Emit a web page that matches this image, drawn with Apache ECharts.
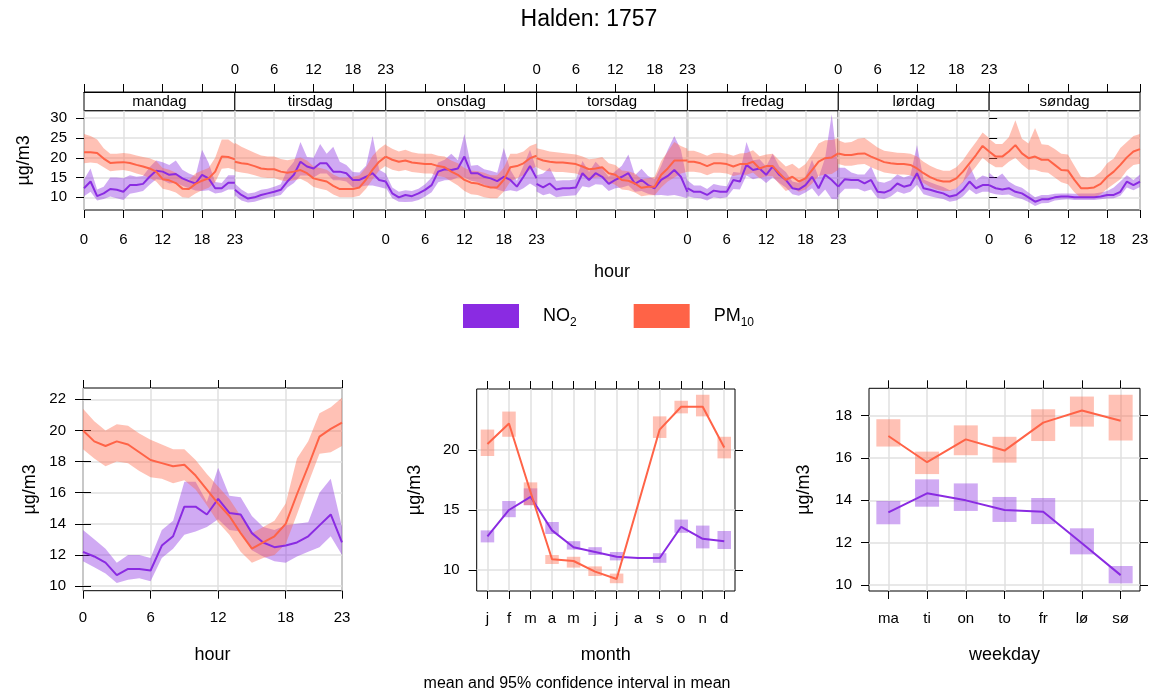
<!DOCTYPE html>
<html><head><meta charset="utf-8">
<script src="https://cdn.jsdelivr.net/npm/echarts@6/dist/echarts.min.js"></script>
<style>html,body{margin:0;padding:0;background:#fff}#c{width:1154px;height:692px}</style>
</head><body><div id="c"></div>
<script>
// ---------------- DATA ----------------
const days = ['mandag','tirsdag','onsdag','torsdag','fredag','lørdag','søndag'];
const hours = [0,1,2,3,4,5,6,7,8,9,10,11,12,13,14,15,16,17,18,19,20,21,22,23];
const topYTicks = [10,15,20,25,30];
const hourYTicks = [10,12,14,16,18,20,22];
const monthYTicks = [10,15,20];
const weekYTicks = [10,12,14,16,18];
const months = ['j','f','m','a','m','j','j','a','s','o','n','d'];
const weekdays = ['ma','ti','on','to','fr','lø','sø'];

// day x hour (one row per weekday, mandag..søndag)
const no2DayMean = [
 [12.3,14.0,10.3,11.0,12.1,11.9,11.4,13.1,13.1,13.4,15.2,16.7,16.5,15.7,15.9,14.8,14.1,13.5,15.7,14.8,12.3,12.3,13.7,13.7],
 [11.9,10.6,9.7,10.0,10.6,11.0,11.4,11.9,14.0,15.7,19.0,17.8,17.3,18.6,18.6,16.5,16.5,16.1,14.4,14.4,15.2,16.1,14.4,14.0],
 [14.0,11.0,10.0,10.6,10.3,11.0,11.9,13.1,16.5,17.1,16.9,17.3,20.3,16.1,16.1,15.2,14.8,14.1,15.2,14.4,12.7,15.2,17.9,14.8],
 [13.4,12.5,13.5,12.0,12.3,12.3,12.5,16.1,14.4,16.1,15.2,13.4,14.4,15.2,16.1,13.4,14.4,13.1,12.3,14.4,15.4,16.9,15.2,11.4],
 [12.3,11.4,11.4,10.6,11.7,11.4,11.4,14.4,14.0,18.2,16.9,17.3,15.7,17.8,15.7,14.4,12.3,12.0,13.1,15.2,12.3,15.7,14.4,12.7],
 [12.7,14.6,14.4,14.4,13.5,14.4,11.4,11.2,11.9,13.5,12.7,13.1,16.1,12.3,11.9,11.4,11.0,10.2,10.6,11.9,14.0,12.3,13.1,13.1],
 [13.1,12.3,12.0,12.3,11.4,11.0,10.0,8.9,9.5,9.5,10.0,10.2,10.2,10.0,10.0,10.0,10.0,10.2,10.6,10.6,11.4,14.0,13.1,14.0]
];
const no2DayLo = [
 [10.3,11.4,9.2,9.6,10.2,9.8,9.3,10.9,11.2,11.6,13.2,14.6,14.3,13.5,13.7,12.9,12.3,11.7,11.6,11.8,11.0,11.2,12.0,12.0],
 [10.5,9.2,8.7,8.9,9.4,9.9,10.2,10.6,12.5,13.6,15.5,15.5,15.0,16.0,16.0,14.3,14.3,14.0,12.5,12.6,13.0,13.0,12.6,12.2],
 [12.5,9.8,8.9,8.8,8.9,9.3,10.2,11.3,13.8,14.3,14.4,15.0,15.0,14.2,13.9,13.2,12.6,12.0,11.5,11.8,11.5,12.3,13.5,12.5],
 [11.5,10.5,11.0,10.0,10.3,10.4,10.5,12.8,12.5,13.3,13.2,11.6,12.3,12.5,13.0,11.4,11.6,10.9,10.5,10.6,10.4,10.6,10.2,9.8],
 [10.3,9.9,9.8,9.2,10.0,9.8,10.0,12.1,12.0,15.5,14.6,15.0,13.6,15.0,13.6,12.5,10.8,10.4,11.2,12.3,10.2,12.0,9.6,9.5],
 [10.5,12.2,12.2,12.2,11.5,12.0,9.8,9.6,10.2,11.5,10.9,11.4,13.2,10.8,10.3,9.9,9.6,8.9,9.2,10.2,12.0,10.8,11.4,11.4],
 [11.2,10.8,10.6,10.7,10.0,9.6,8.8,7.8,8.5,8.6,9.2,9.4,9.5,9.3,9.3,9.3,9.3,9.5,9.7,9.8,10.4,12.5,11.8,12.6]
];
const no2DayHi = [
 [14.5,17.3,12.0,12.7,15.0,15.0,14.8,15.6,15.2,15.4,17.6,19.3,18.9,18.2,19.3,17.0,16.0,15.4,22.0,18.7,13.9,13.6,15.6,15.6],
 [13.5,12.0,11.0,11.2,11.9,12.2,12.7,13.3,17.0,19.0,24.0,20.2,20.0,23.5,21.0,22.8,19.0,18.2,16.4,16.3,18.0,25.5,17.0,16.0],
 [16.0,12.5,11.4,11.8,11.6,12.2,13.3,15.0,18.8,19.5,21.0,19.4,26.0,18.0,18.2,17.1,16.7,16.2,22.5,17.0,14.2,18.0,22.0,17.0],
 [15.6,16.0,17.5,14.2,14.3,14.3,14.6,19.2,16.4,19.0,17.3,15.2,16.6,18.0,20.8,15.6,17.2,15.4,14.6,18.0,22.0,25.5,22.0,14.0],
 [14.3,13.0,13.0,12.1,13.4,13.0,12.8,16.4,16.2,24.0,19.4,19.6,17.8,21.0,17.8,16.4,14.0,13.6,15.2,19.5,15.0,20.0,31.0,17.0],
 [17.5,17.5,16.3,15.8,15.8,17.8,14.0,13.7,14.3,15.8,15.0,15.6,23.2,14.5,13.8,13.2,12.6,11.8,12.3,14.0,18.2,14.4,15.5,15.0],
 [16.2,14.8,16.0,14.0,13.0,12.4,11.2,10.0,10.6,10.6,10.9,11.0,11.0,10.9,11.0,11.0,11.0,11.2,11.6,12.5,14.0,15.6,14.4,15.8]
];
const pm10DayMean = [
 [21.4,21.4,21.2,19.8,18.7,18.8,18.9,18.7,18.2,17.8,17.3,16.5,14.6,14.3,13.6,12.2,12.1,13.4,14.2,14.8,16.5,20.3,20.2,19.6],
 [19.0,18.6,18.4,17.9,17.3,17.1,17.1,16.5,16.2,16.5,16.9,16.1,14.8,14.4,14.0,12.9,12.1,12.1,12.1,12.5,14.5,17.0,19.0,20.3],
 [20.3,19.5,19.0,19.3,18.8,18.6,18.4,18.4,17.9,17.6,16.5,15.7,14.4,13.7,13.5,12.9,12.5,12.5,14.4,17.6,17.9,18.6,19.9,20.5],
 [19.9,19.3,19.0,18.8,18.8,18.6,18.4,17.8,17.1,17.3,17.6,16.1,15.7,14.4,14.2,13.5,12.4,12.7,12.7,15.7,17.3,19.3,19.3,19.3],
 [19.0,19.0,18.6,17.9,18.6,18.6,18.4,17.8,18.4,18.4,19.0,17.3,17.9,17.9,16.1,14.4,15.2,14.0,14.8,16.9,19.0,19.9,20.1,21.1],
 [21.1,20.7,20.7,21.0,21.1,20.3,19.6,18.9,18.6,18.4,18.4,18.2,17.3,16.1,15.1,14.4,14.0,14.0,14.8,16.5,18.6,20.7,23.0,21.6],
 [21.6,20.3,20.3,21.6,23.2,21.1,19.9,20.3,19.5,19.5,18.2,16.9,16.8,14.4,12.3,12.3,12.5,13.4,15.2,16.5,18.2,20.1,21.6,22.2]
];
const pm10DayLo = [
 [18.6,18.8,18.6,17.6,16.6,16.8,16.9,16.6,16.0,15.6,14.9,14.0,12.2,11.8,11.2,10.0,9.9,11.0,11.8,12.4,13.8,17.2,17.4,17.0],
 [16.6,16.3,16.0,15.6,15.1,14.9,14.9,14.3,14.0,14.3,14.7,13.9,12.6,12.2,11.8,10.7,10.0,10.0,10.0,10.4,12.2,14.6,16.8,18.0],
 [17.8,17.0,16.6,16.9,16.4,16.2,16.0,16.0,15.4,15.1,14.0,13.0,11.6,10.8,10.6,10.0,9.8,9.8,11.5,14.0,14.8,15.6,17.0,17.8],
 [17.6,16.8,16.6,16.4,16.4,16.2,16.0,15.4,14.8,15.0,15.2,13.8,13.2,12.0,11.8,11.2,10.3,10.5,10.5,12.5,14.0,15.0,16.0,16.5],
 [16.5,16.5,16.2,15.6,16.2,16.2,16.0,15.4,15.8,15.7,16.3,14.8,15.3,15.3,13.4,11.6,12.3,11.4,12.0,13.5,15.4,15.8,15.9,17.0],
 [18.4,18.0,18.0,18.3,18.4,17.6,16.9,16.3,16.0,15.8,15.8,15.6,14.7,13.6,12.6,12.0,11.6,11.6,12.3,13.8,15.8,17.8,20.0,18.6],
 [18.6,17.6,17.6,19.0,20.0,18.3,17.0,17.0,16.4,16.2,15.0,13.8,13.3,11.3,9.9,9.9,10.1,10.8,12.2,13.4,14.6,16.8,18.2,18.5]
];
const pm10DayHi = [
 [26.0,25.5,24.6,22.4,21.0,21.0,21.2,21.0,20.6,20.2,19.9,19.2,17.4,17.0,16.2,14.6,14.4,16.0,16.8,17.4,20.0,24.6,24.6,23.4],
 [23.8,22.8,22.0,21.3,20.6,20.3,20.3,19.7,19.4,19.7,20.1,19.3,17.8,17.4,17.0,15.8,15.0,15.0,15.2,15.6,17.6,20.5,22.3,23.5],
 [23.2,22.3,21.6,22.0,21.4,21.1,21.0,21.0,20.5,20.3,19.3,18.6,17.4,16.8,16.6,16.2,15.6,15.6,17.5,21.0,21.0,21.6,23.0,23.6],
 [22.4,22.0,21.6,21.4,21.2,21.0,20.8,20.3,19.6,19.8,20.2,18.6,18.2,16.8,16.6,16.0,14.6,14.8,15.2,19.2,21.6,24.0,23.0,22.3],
 [21.8,21.8,21.2,20.5,21.2,21.3,21.0,20.5,21.1,21.2,21.9,20.4,20.8,21.0,19.4,17.8,18.5,17.2,18.4,20.8,23.6,24.4,24.5,25.0],
 [24.4,23.8,24.0,24.8,25.0,23.8,22.6,21.8,21.5,21.3,21.2,21.0,20.3,19.0,18.0,17.2,16.7,16.7,17.6,19.4,21.8,24.0,26.4,25.0],
 [24.8,23.5,23.5,25.2,29.5,24.8,23.6,27.5,23.4,23.2,22.2,21.0,20.8,18.0,15.2,15.0,15.2,16.4,18.6,19.8,22.5,24.0,25.5,26.0]
];

// hour of day
const no2HourMean = [12.2,11.9,11.5,10.7,11.1,11.1,11.0,12.6,13.2,15.1,15.1,14.6,15.6,14.7,14.6,13.4,12.8,12.5,12.6,12.8,13.2,13.9,14.6,12.8];
const no2HourLo   = [11.6,11.2,10.8,10.2,10.4,10.5,10.3,11.8,12.4,13.3,13.5,13.8,14.3,13.6,13.5,12.3,11.9,11.6,11.5,11.9,12.2,12.5,13.2,12.0];
const no2HourHi   = [13.6,13.0,12.4,11.5,12.0,12.0,11.8,13.6,14.2,16.7,16.7,15.4,17.6,15.8,15.7,14.5,13.8,13.6,13.9,14.0,14.1,16.0,16.9,13.8];
const pm10HourMean = [20.0,19.3,19.0,19.3,19.1,18.6,18.1,17.9,17.7,17.8,17.1,16.2,15.3,14.5,13.4,12.4,12.8,13.2,14.0,15.9,17.7,19.6,20.1,20.5];
const pm10HourLo   = [18.8,18.2,17.7,18.0,17.9,17.4,17.0,16.9,16.6,16.8,16.2,15.2,14.1,13.3,12.2,11.5,11.8,12.0,12.7,14.6,16.6,18.5,18.6,19.0];
const pm10HourHi   = [21.4,20.6,20.0,20.4,20.3,19.8,19.4,19.1,18.8,18.8,18.1,17.2,16.4,15.6,14.5,13.4,13.8,14.2,15.3,18.2,19.3,21.1,21.5,22.1];

// month
const no2MonthMean = [12.8,15.0,16.1,13.3,11.9,11.5,11.1,11.0,11.0,13.6,12.6,12.4];
const no2MonthLo   = [12.3,14.4,15.4,13.0,11.7,11.25,10.8,11.0,10.6,13.1,11.8,11.75];
const no2MonthHi   = [13.3,15.75,16.8,14.0,12.4,11.9,11.5,11.0,11.4,14.2,13.7,13.25];
const pm10MonthMean = [20.5,22.2,16.5,10.9,10.75,9.86,9.25,null,21.7,23.6,23.6,20.2];
const pm10MonthLo   = [19.5,21.1,15.4,10.5,10.2,9.5,8.9,null,21.0,23.05,22.8,19.3];
const pm10MonthHi   = [21.7,23.2,17.3,11.25,11.1,10.3,9.7,null,22.8,24.1,24.6,21.1];

// weekday
const no2WeekMean = [13.43,14.33,14.0,13.54,13.46,11.97,10.47];
const no2WeekLo   = [12.87,13.7,13.5,12.98,12.88,11.45,10.08];
const no2WeekHi   = [13.97,14.99,14.8,14.16,14.11,12.68,10.9];
const pm10WeekMean = [17.04,15.8,16.88,16.35,17.67,18.24,17.76];
const pm10WeekLo   = [16.54,15.24,16.13,15.78,16.8,17.48,16.83];
const pm10WeekHi   = [17.83,16.3,17.54,17.0,18.3,18.9,18.98];

// ---------------- STYLE / LAYOUT ----------------
const FONT = '"Liberation Sans", Arial, sans-serif';
const BLACK = '#000';
const GRIDC = '#e0e0e0';
const NO2_COL = '#8A2BE2', NO2_FILL = 'rgba(138,43,226,0.4)';
const PM_COL = '#FF6347', PM_FILL = 'rgba(255,99,71,0.4)';
const TICK_FS = 15, NAME_FS = 18;

const grids = [], xAxes = [], yAxes = [], series = [], graphics = [];
function addGrid(g){ grids.push(Object.assign({show:true, borderColor:BLACK, borderWidth:1, backgroundColor:'transparent'}, g)); return grids.length-1; }
function addX(a){ xAxes.push(a); return xAxes.length-1; }
function addY(a){ yAxes.push(a); return yAxes.length-1; }
const tickStyle = (show, len) => ({show:show, length:len||8, inside:false, lineStyle:{color:BLACK, width:1}});
const lblStyle = (show, margin) => ({show:show, margin:margin, fontSize:TICK_FS, color:BLACK, fontFamily:FONT});
const split = (show) => ({show:show, lineStyle:{color:GRIDC, width:1.5}});
const nameStyle = {fontSize:NAME_FS, color:BLACK, fontFamily:FONT};

function band(xs, lo, hi, fill, xi, yi){
  return {type:'custom', xAxisIndex:xi, yAxisIndex:yi, silent:true, z:2,
    data: xs.map((x,k)=>[x, lo[k], hi[k]]),
    renderItem:(params, api)=>{
      if (params.dataIndex !== 0) return null;
      const pts = [];
      for (let k=0;k<xs.length;k++) if (hi[k]!=null) pts.push(api.coord([xs[k], hi[k]]));
      for (let k=xs.length-1;k>=0;k--) if (lo[k]!=null) pts.push(api.coord([xs[k], lo[k]]));
      return {type:'polygon', shape:{points:pts}, style:{fill:fill}};
    }};
}
function boxes(lo, hi, fill, w, xi, yi){
  return {type:'custom', xAxisIndex:xi, yAxisIndex:yi, silent:true, z:2,
    data: lo.map((l,k)=>[k, l, hi[k]]),
    renderItem:(params, api)=>{
      const l = api.value(1), h = api.value(2);
      if (isNaN(l) || isNaN(h)) return null;
      const a = api.coord([api.value(0), h]), b = api.coord([api.value(0), l]);
      return {type:'rect', shape:{x:a[0]-w/2, y:a[1], width:w, height:Math.max(b[1]-a[1],0)}, style:{fill:fill}};
    }};
}
function line(name, data, color, xi, yi){
  return {type:'line', name:name, xAxisIndex:xi, yAxisIndex:yi, data:data, symbol:'none', showSymbol:false,
    connectNulls:true, silent:true, z:2, lineStyle:{color:color, width:2}, itemStyle:{color:color}};
}

// ---------- top: day x hour panels ----------
const TL = 84, TR = 1140, TT = 110.7, TB = 210, STRIP = 18.7;
const pw = (TR-TL)/7;
for (let i=0;i<7;i++){
  const gi = addGrid({left:TL+i*pw, top:TT, width:pw, height:TB-TT});
  const xb = addX({type:'value', gridIndex:gi, min:0, max:23, interval:6, position:'bottom',
    axisLine:{show:false}, axisTick:tickStyle(true), axisLabel:lblStyle(i%2===0, 22), splitLine:split(true),
    name: i===3 ? 'hour' : '', nameLocation:'middle', nameGap:53, nameTextStyle:nameStyle});
  addX({type:'value', gridIndex:gi, min:0, max:23, interval:6, position:'top', offset:STRIP,
    axisLine:{show:true, lineStyle:{color:BLACK, width:1}}, axisTick:tickStyle(true), axisLabel:lblStyle(i%2===1, 15), splitLine:split(false)});
  const yl = addY({type:'value', gridIndex:gi, min:6.8, max:31.9, position:'left',
    axisLine:{show:false}, axisTick:Object.assign(tickStyle(i===0), {customValues:topYTicks}),
    axisLabel:Object.assign(lblStyle(i===0, 17), {customValues:topYTicks}), splitLine:split(true),
    name: i===0 ? 'µg/m3' : '', nameLocation:'middle', nameRotate:90, nameGap:51, nameTextStyle:nameStyle});
  if (i===6) addY({type:'value', gridIndex:gi, min:6.8, max:31.9, position:'right',
    axisLine:{show:false}, axisTick:Object.assign(tickStyle(true), {customValues:topYTicks}),
    axisLabel:{show:false, customValues:topYTicks}, splitLine:split(false)});
  graphics.push({type:'rect', shape:{x:TL+i*pw, y:TT-STRIP, width:pw, height:STRIP}, style:{fill:'#fff', stroke:BLACK, lineWidth:1}, z:0});
  graphics.push({type:'text', x:TL+(i+0.5)*pw, y:TT-STRIP/2+0.5, style:{text:days[i], fontSize:15, fontFamily:FONT, fill:BLACK, align:'center', verticalAlign:'middle'}, z:1});
  series.push(band(hours, no2DayLo[i], no2DayHi[i], NO2_FILL, xb, yl));
  series.push(line('NO2', hours.map((h,k)=>[h, no2DayMean[i][k]]), NO2_COL, xb, yl));
  series.push(band(hours, pm10DayLo[i], pm10DayHi[i], PM_FILL, xb, yl));
  series.push(line('PM10', hours.map((h,k)=>[h, pm10DayMean[i][k]]), PM_COL, xb, yl));
}

// ---------- bottom left: hour ----------
{
  const gi = addGrid({left:83, top:388, width:259, height:202.7});
  const xb = addX({type:'value', gridIndex:gi, min:0, max:23, interval:6, position:'bottom',
    axisLine:{show:false}, axisTick:tickStyle(true), axisLabel:lblStyle(true, 20), splitLine:split(true),
    name:'hour', nameLocation:'middle', nameGap:55, nameTextStyle:nameStyle});
  addX({type:'value', gridIndex:gi, min:0, max:23, interval:6, position:'top',
    axisLine:{show:false}, axisTick:tickStyle(true), axisLabel:{show:false}, splitLine:split(false)});
  const yl = addY({type:'value', gridIndex:gi, min:9.7, max:22.73, position:'left',
    axisLine:{show:false}, axisTick:Object.assign(tickStyle(true), {customValues:hourYTicks}),
    axisLabel:Object.assign(lblStyle(true, 17), {customValues:hourYTicks}), splitLine:split(true),
    name:'µg/m3', nameLocation:'middle', nameRotate:90, nameGap:44, nameTextStyle:nameStyle});
  addY({type:'value', gridIndex:gi, min:9.7, max:22.73, position:'right',
    axisLine:{show:false}, axisTick:Object.assign(tickStyle(true), {customValues:hourYTicks}),
    axisLabel:{show:false, customValues:hourYTicks}, splitLine:split(false)});
  series.push(band(hours, no2HourLo, no2HourHi, NO2_FILL, xb, yl));
  series.push(line('NO2', hours.map((h,k)=>[h, no2HourMean[k]]), NO2_COL, xb, yl));
  series.push(band(hours, pm10HourLo, pm10HourHi, PM_FILL, xb, yl));
  series.push(line('PM10', hours.map((h,k)=>[h, pm10HourMean[k]]), PM_COL, xb, yl));
}

// ---------- bottom middle: month ----------
function catAxes(gi, cats, name){
  const xb = addX({type:'category', gridIndex:gi, data:cats, boundaryGap:true, position:'bottom',
    axisLine:{show:false}, axisTick:Object.assign(tickStyle(true), {alignWithLabel:true, interval:0}),
    axisLabel:Object.assign(lblStyle(true, 20), {interval:0}),
    splitLine:{show:true, alignWithLabel:true, interval:0, lineStyle:{color:GRIDC, width:1.5}},
    name:name, nameLocation:'middle', nameGap:55, nameTextStyle:nameStyle});
  addX({type:'category', gridIndex:gi, data:cats, boundaryGap:true, position:'top',
    axisLine:{show:false}, axisTick:Object.assign(tickStyle(true), {alignWithLabel:true, interval:0}),
    axisLabel:{show:false}, splitLine:split(false)});
  return xb;
}
{
  const gi = addGrid({left:476.7, top:389, width:258.3, height:202});
  const xb = catAxes(gi, months, 'month');
  const yl = addY({type:'value', gridIndex:gi, min:8.25, max:25.08, position:'left',
    axisLine:{show:false}, axisTick:Object.assign(tickStyle(true), {customValues:monthYTicks}),
    axisLabel:Object.assign(lblStyle(true, 17), {customValues:monthYTicks}), splitLine:split(true),
    name:'µg/m3', nameLocation:'middle', nameRotate:90, nameGap:53, nameTextStyle:nameStyle});
  addY({type:'value', gridIndex:gi, min:8.25, max:25.08, position:'right',
    axisLine:{show:false}, axisTick:Object.assign(tickStyle(true), {customValues:monthYTicks}),
    axisLabel:{show:false, customValues:monthYTicks}, splitLine:split(false)});
  series.push(boxes(no2MonthLo, no2MonthHi, NO2_FILL, 13.5, xb, yl));
  series.push(line('NO2', no2MonthMean, NO2_COL, xb, yl));
  series.push(boxes(pm10MonthLo, pm10MonthHi, PM_FILL, 13.5, xb, yl));
  series.push(line('PM10', pm10MonthMean, PM_COL, xb, yl));
}

// ---------- bottom right: weekday ----------
{
  const gi = addGrid({left:869, top:388.3, width:271, height:202.7});
  const xb = catAxes(gi, weekdays, 'weekday');
  const yl = addY({type:'value', gridIndex:gi, min:9.72, max:19.29, position:'left',
    axisLine:{show:false}, axisTick:Object.assign(tickStyle(true), {customValues:weekYTicks}),
    axisLabel:Object.assign(lblStyle(true, 17), {customValues:weekYTicks}), splitLine:split(true),
    name:'µg/m3', nameLocation:'middle', nameRotate:90, nameGap:56, nameTextStyle:nameStyle});
  addY({type:'value', gridIndex:gi, min:9.72, max:19.29, position:'right',
    axisLine:{show:false}, axisTick:Object.assign(tickStyle(true), {customValues:weekYTicks}),
    axisLabel:{show:false, customValues:weekYTicks}, splitLine:split(false)});
  series.push(boxes(no2WeekLo, no2WeekHi, NO2_FILL, 24, xb, yl));
  series.push(line('NO2', no2WeekMean, NO2_COL, xb, yl));
  series.push(boxes(pm10WeekLo, pm10WeekHi, PM_FILL, 24, xb, yl));
  series.push(line('PM10', pm10WeekMean, PM_COL, xb, yl));
}

// titles
graphics.push({type:'text', x:589, y:20, style:{text:'Halden: 1757', fontSize:23, fontFamily:FONT, fill:BLACK, align:'center', verticalAlign:'middle'}});
graphics.push({type:'text', x:577, y:684, style:{text:'mean and 95% confidence interval in mean', fontSize:16, fontFamily:FONT, fill:BLACK, align:'center', verticalAlign:'middle'}});

const chart = echarts.init(document.getElementById('c'), null, {renderer:'canvas'});
chart.setOption({
  animation:false,
  backgroundColor:'#fff',
  textStyle:{fontFamily:FONT},
  legend:{
    data:[{name:'NO2', itemStyle:{color:NO2_COL}}, {name:'PM10', itemStyle:{color:PM_COL}}],
    left:458, top:299, icon:'rect', itemWidth:56, itemHeight:24, itemGap:57, selectedMode:false,
    formatter:(n)=> n==='NO2' ? '{a|NO}{b|2}' : '{a|PM}{b|10}',
    textStyle:{padding:[0,0,0,19], rich:{
      a:{fontSize:18, color:BLACK, fontFamily:FONT, lineHeight:26, verticalAlign:'middle'},
      b:{fontSize:12, color:BLACK, fontFamily:FONT, lineHeight:12, verticalAlign:'bottom'}}}
  },
  grid:grids, xAxis:xAxes, yAxis:yAxes, series:series, graphic:graphics
});
</script></body></html>
